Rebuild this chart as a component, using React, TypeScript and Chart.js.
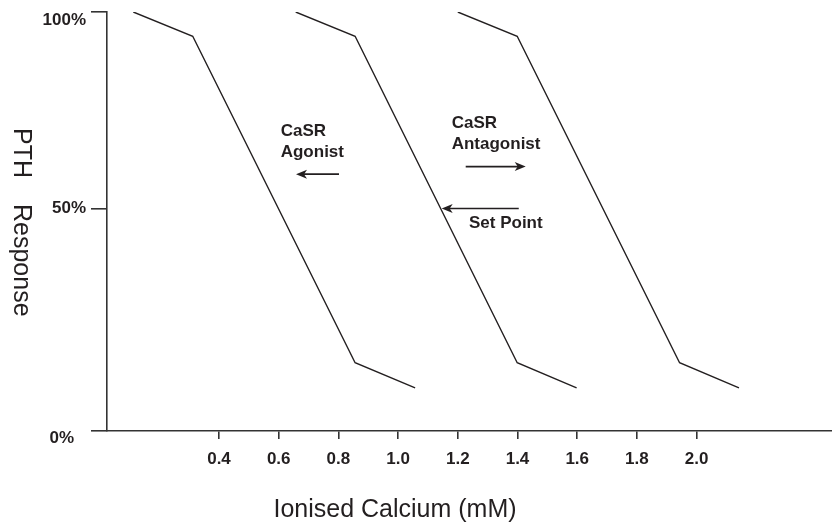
import { useEffect, useRef } from 'react';
import { Chart, registerables } from 'chart.js';

Chart.register(...registerables);

// ---- data ----
const responseLevels = [100, 94.2, 16.3, 10.3];
const agonistCurveCa = [0.113, 0.312, 0.856, 1.057];
const setPointCurveCa = [0.657, 0.856, 1.399, 1.598];
const antagonistCurveCa = [1.2, 1.399, 1.943, 2.142];

const xTickValues = [0.4, 0.6, 0.8, 1.0, 1.2, 1.4, 1.6, 1.8, 2.0];
const yTickValues = [0, 53, 100];
const yTickLabels = ['0%', '50%', '100%'];

const xTitle = 'Ionised Calcium (mM)';
const yTitleWords = ['PTH', 'Response'];

// annotations in data coordinates
const arrowFrom = [
  [0.802, 61.3],
  [1.2265, 63.1],
  [1.4042, 53.1],
];
const arrowTo = [
  [0.658, 61.3],
  [1.4275, 63.1],
  [1.146, 53.1],
];
const noteLines = [['CaSR', 'Agonist'], ['CaSR', 'Antagonist'], ['Set Point']];
const noteAnchors = [
  [0.6067, 70.3],
  [1.1796, 72.3],
  [1.2375, 48.4],
];

const INK = '#231f20';
const FONT = '"Liberation Sans", Arial, Helvetica, sans-serif';

const toPoints = (xs: number[]) => xs.map((x, i) => ({ x, y: responseLevels[i] }));

const annotationPlugin = {
  id: 'annotations',
  afterDraw(chart: any) {
    const { ctx, scales } = chart;
    const xs = scales.x;
    const ys = scales.y;
    ctx.save();
    ctx.fillStyle = INK;
    ctx.strokeStyle = INK;

    // y tick labels
    const dxs = [-12, 0, 0];
    const dys = [11.6, 4.3, 12.5];
    ctx.font = `bold 17px ${FONT}`;
    ctx.textAlign = 'right';
    ctx.textBaseline = 'alphabetic';
    yTickValues.forEach((v, i) => {
      const py = ys.getPixelForValue(v);
      ctx.fillText(yTickLabels[i], chart.chartArea.left - 21 + dxs[i], py + dys[i]);
    });

    // notes
    ctx.textAlign = 'left';
    noteLines.forEach((lines, i) => {
      const px = xs.getPixelForValue(noteAnchors[i][0]);
      const py = ys.getPixelForValue(noteAnchors[i][1]);
      lines.forEach((t, j) => ctx.fillText(t, px, py + j * 21));
    });

    // arrows
    ctx.lineWidth = 1.7;
    arrowFrom.forEach((f, i) => {
      const x1 = xs.getPixelForValue(f[0]);
      const y1 = ys.getPixelForValue(f[1]);
      const x2 = xs.getPixelForValue(arrowTo[i][0]);
      const y2 = ys.getPixelForValue(arrowTo[i][1]);
      const dir = Math.sign(x2 - x1);
      ctx.beginPath();
      ctx.moveTo(x1, y1);
      ctx.lineTo(x2 - dir * 6, y2);
      ctx.stroke();
      ctx.beginPath();
      ctx.moveTo(x2, y2);
      ctx.lineTo(x2 - dir * 11, y2 - 4.5);
      ctx.lineTo(x2 - dir * 8, y2);
      ctx.lineTo(x2 - dir * 11, y2 + 4.5);
      ctx.closePath();
      ctx.fill();
    });

    // x title
    ctx.font = `25px ${FONT}`;
    ctx.textAlign = 'center';
    ctx.fillText(xTitle, 395, 517);

    // y title (rotated clockwise)
    ctx.save();
    ctx.translate(14, 128);
    ctx.rotate(Math.PI / 2);
    ctx.textAlign = 'left';
    ctx.fillText(yTitleWords[0], 0, 0);
    ctx.fillText(yTitleWords[1], 76, 0);
    ctx.restore();

    ctx.restore();
  },
};

export default function App() {
  const ref = useRef<HTMLCanvasElement | null>(null);

  useEffect(() => {
    if (!ref.current) return;
    const lineStyle = {
      borderColor: INK,
      borderWidth: 1.4,
      pointRadius: 0,
      tension: 0,
      fill: false,
    };
    const chart = new Chart(ref.current, {
      type: 'line',
      data: {
        datasets: [
          { label: 'Agonist', data: toPoints(agonistCurveCa), ...lineStyle },
          { label: 'Set point', data: toPoints(setPointCurveCa), ...lineStyle },
          { label: 'Antagonist', data: toPoints(antagonistCurveCa), ...lineStyle },
        ],
      },
      options: {
        responsive: false,
        animation: false,
        layout: { padding: { top: 12, right: 0, bottom: 0, left: 0 } },
        plugins: {
          legend: { display: false },
          tooltip: { enabled: false },
          title: { display: false },
        },
        scales: {
          x: {
            type: 'linear',
            min: 0.0248,
            max: 2.4536,
            afterBuildTicks: (s: any) => {
              s.ticks = xTickValues.map((v) => ({ value: v }));
            },
            afterFit: (s: any) => {
              s.height = 96;
            },
            border: { display: true, color: '#333', width: 1.6 },
            grid: {
              display: true,
              drawOnChartArea: false,
              drawTicks: true,
              tickLength: 8,
              color: '#333',
              lineWidth: 1.6,
            },
            ticks: {
              autoSkip: false,
              maxRotation: 0,
              padding: 10,
              color: INK,
              font: { family: FONT, size: 17, weight: 'bold' },
              callback: (v: any) => Number(v).toFixed(1),
            },
          },
          y: {
            type: 'linear',
            min: 0,
            max: 100,
            afterBuildTicks: (s: any) => {
              s.ticks = yTickValues.map((v) => ({ value: v }));
            },
            afterFit: (s: any) => {
              s.width = 107;
            },
            border: { display: true, color: '#333', width: 1.6 },
            grid: {
              display: true,
              drawOnChartArea: false,
              drawTicks: true,
              tickLength: 16,
              color: '#333',
              lineWidth: 1.6,
            },
            ticks: { display: false },
          },
        },
      } as any,
      plugins: [annotationPlugin],
    });
    return () => chart.destroy();
  }, []);

  return (
    <div style={{ position: 'fixed', left: 0, top: 0, width: 832, height: 527, background: '#fff' }}>
      <canvas ref={ref} width={832} height={527} style={{ display: 'block' }} />
    </div>
  );
}
